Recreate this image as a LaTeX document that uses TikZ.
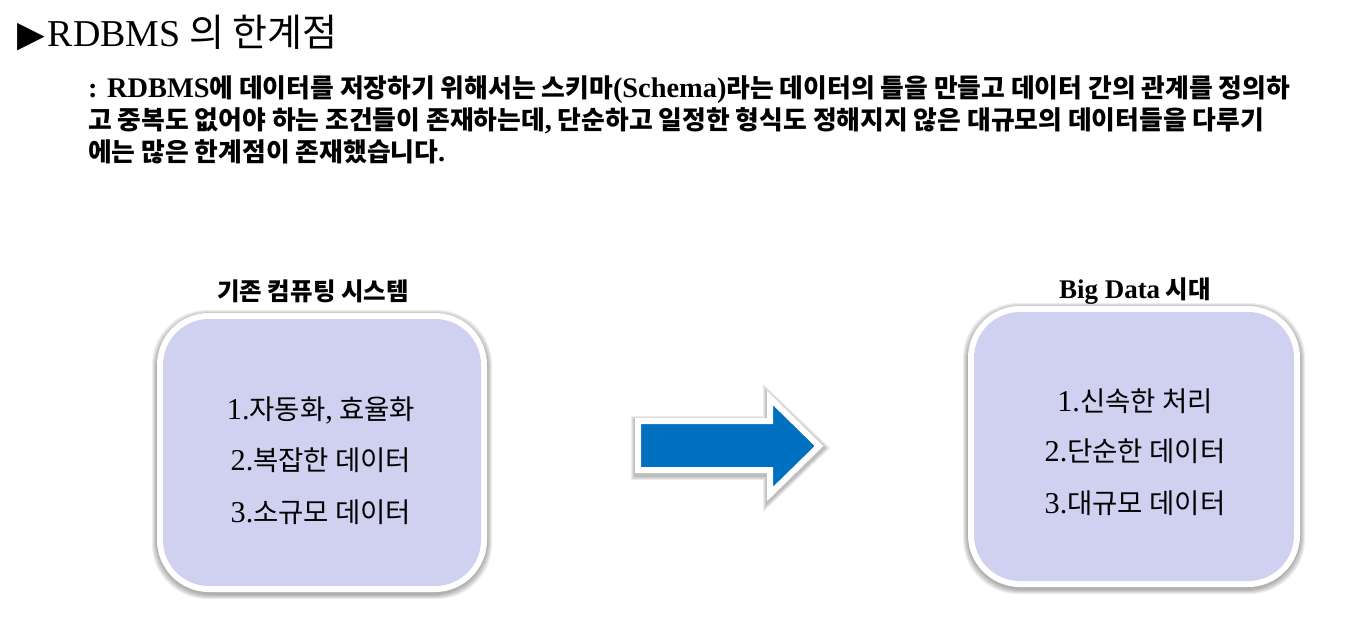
\documentclass[tikz,border=0pt]{standalone}
\usepackage{fontspec}
\setmainfont{Noto Sans CJK KR}
\newfontfamily\lat{Liberation Serif}[Scale=1.1]
\newfontfamily\sym{DejaVu Sans}
\definecolor{boxfill}{RGB}{208,209,240}
\definecolor{arrowblue}{RGB}{0,112,192}
\tikzset{
  para/.style={anchor=base west, inner sep=0pt, font=\fontsize{25.8}{26}\selectfont\bfseries},
  label/.style={anchor=base, inner sep=0pt, font=\fontsize{24.5}{24}\selectfont\bfseries},
  item/.style={anchor=base, inner sep=0pt, font=\fontsize{27.5}{27}\selectfont},
  outerbox/.style={fill=white, rounded corners=52pt},
  glow/.style={fill=black, opacity=0.07, rounded corners=55pt},
  innerbox/.style={fill=boxfill, rounded corners=46pt},
  arrowglow/.style={draw=black, opacity=0.07, line join=miter},
  bigarrow/.style={fill=arrowblue, draw=white, line width=6pt, line join=miter}
}
\begin{document}
\begin{tikzpicture}[x=1pt,y=-1pt]
\useasboundingbox (0,0) rectangle (1357,633);
% title
\node[anchor=base west, inner sep=0pt, font=\fontsize{38}{38}\selectfont] (title) at (17,46) {{\sym\fontsize{36}{36}\selectfont ▶}\hspace{3pt}{\lat\fontsize{34.5}{34}\selectfont RDBMS} 의 한계점};
% paragraph
\node[para] (p1) at (88,97) {{\lat : RDBMS}에 데이터를 저장하기 위해서는 스키마{\lat (Schema)}라는 데이터의 틀을 만들고 데이터 간의 관계를 정의하};
\node[para] (p2) at (88,129) {고 중복도 없어야 하는 조건들이 존재하는데{\lat ,} 단순하고 일정한 형식도 정해지지 않은 대규모의 데이터들을 다루기};
\node[para] (p3) at (88,161) {에는 많은 한계점이 존재했습니다{\lat .}};
% left box
\node[label] (lt) at (313,300) {기존 컴퓨팅 시스템};
\foreach \i in {1,...,5}
  \path[glow] (157-\i,313-\i+2) rectangle (487+\i,592+\i+2);
\path[outerbox] (157,313) rectangle (487,592);
\path[innerbox] (163,319) rectangle (481,586);
\node[item] (l1) at (321,419) {{\lat 1.}자동화{\lat ,} 효율화};
\node[item] (l2) at (321,470) {{\lat 2.}복잡한 데이터};
\node[item] (l3) at (321,522) {{\lat 3.}소규모 데이터};
% arrow
\foreach \w in {8,10,12,14}
  \path[arrowglow, line width=\w pt] (638,423) -- (770,423) -- (770,400) -- (820,448) -- (770,496) -- (770,473) -- (638,473) -- cycle;
\path[bigarrow] (638,421) -- (770,421) -- (770,398) -- (819,446) -- (770,494) -- (770,470) -- (638,470) -- cycle;
% right box
\node[label] (rt) at (1135,298) {{\lat\bfseries Big Data} 시대};
\foreach \i in {1,...,5}
  \path[glow] (968-\i,306-\i+2) rectangle (1300+\i,587+\i+2);
\path[outerbox] (968,306) rectangle (1300,587);
\path[innerbox] (974,312) rectangle (1294,581);
\node[item] (r1) at (1135,411) {{\lat 1.}신속한 처리};
\node[item] (r2) at (1135,461) {{\lat 2.}단순한 데이터};
\node[item] (r3) at (1135,513) {{\lat 3.}대규모 데이터};
\end{tikzpicture}
\end{document}
